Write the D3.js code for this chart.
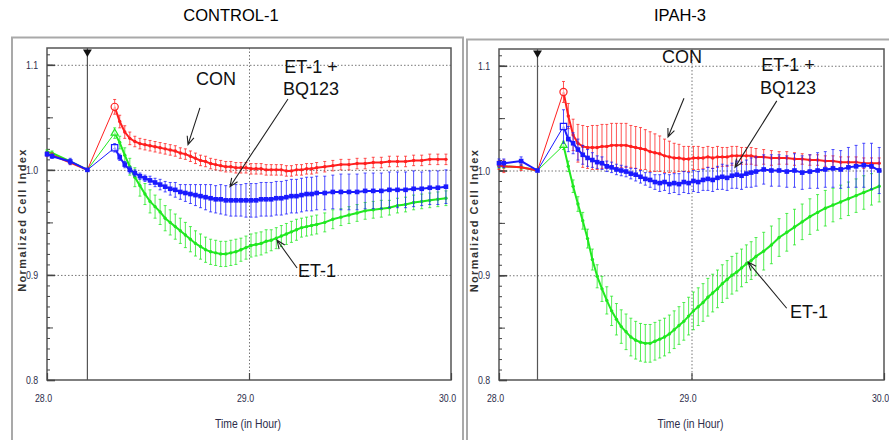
<!DOCTYPE html>
<html>
<head>
<meta charset="utf-8">
<script src="https://cdn.jsdelivr.net/npm/d3@7"></script>
<style>
  body { margin: 0; background: #fff; }
  svg { display: block; font-family: "Liberation Sans", Arial, sans-serif; }
</style>
</head>
<body>
<svg id="chart" width="889" height="440"></svg>
<script>
// time points (hours), shared by both panels
const TIME = [28.0, 28.025, 28.115, 28.2,
  28.335, 28.36, 28.385, 28.41, 28.435, 28.46, 28.485, 28.51, 28.535, 28.56,
  28.585, 28.61, 28.635, 28.66, 28.685, 28.71, 28.735, 28.76, 28.785, 28.81,
  28.835, 28.86, 28.885, 28.91, 28.935, 28.96, 28.985, 29.01, 29.035, 29.06,
  29.085, 29.11, 29.135, 29.16, 29.185, 29.21, 29.235, 29.26, 29.285, 29.31, 29.335,
  29.375, 29.415, 29.455, 29.495, 29.535, 29.575, 29.615, 29.655, 29.695, 29.735,
  29.775, 29.815, 29.855, 29.895, 29.935, 29.975];

const PEAK = 4;        // first point after treatment
const EVENT_T = 28.2;  // treatment marker

// CONTROL-1
const CONTROL_CON = [1.015, 1.014, 1.007, 1.000,
  1.060, 1.046, 1.036, 1.030, 1.027, 1.025, 1.024, 1.023, 1.022, 1.021,
  1.020, 1.019, 1.018, 1.016, 1.015, 1.013, 1.011, 1.009, 1.008, 1.006,
  1.005, 1.004, 1.003, 1.003, 1.002, 1.002, 1.002, 1.001, 1.001, 1.001,
  1.000, 1.000, 1.000, 1.000, 0.999, 0.999, 1.000, 1.000, 1.001, 1.001, 1.002,
  1.003, 1.004, 1.005, 1.005, 1.006, 1.006, 1.007, 1.007, 1.008, 1.008,
  1.008, 1.009, 1.009, 1.010, 1.010, 1.010];
const CONTROL_CON_ERR = [0.002, 0.002, 0.002, 0.001,
  0.007, 0.006, 0.006, 0.006, 0.005, 0.005, 0.005, 0.005, 0.005, 0.005,
  0.005, 0.005, 0.005, 0.005, 0.005, 0.005, 0.005, 0.005, 0.005, 0.005,
  0.005, 0.005, 0.005, 0.005, 0.005, 0.005, 0.005, 0.005, 0.005, 0.005,
  0.005, 0.005, 0.005, 0.005, 0.005, 0.005, 0.005, 0.005, 0.005, 0.005, 0.005,
  0.005, 0.005, 0.005, 0.005, 0.005, 0.005, 0.005, 0.005, 0.005, 0.005,
  0.005, 0.005, 0.005, 0.005, 0.005, 0.005];

const CONTROL_ET1 = [1.017, 1.016, 1.008, 1.000,
  1.035, 1.026, 1.014, 1.003, 0.993, 0.985, 0.977, 0.970, 0.965, 0.960,
  0.954, 0.950, 0.946, 0.942, 0.938, 0.934, 0.930, 0.927, 0.924, 0.922,
  0.921, 0.920, 0.920, 0.921, 0.922, 0.924, 0.926, 0.928, 0.929, 0.930,
  0.932, 0.933, 0.935, 0.937, 0.939, 0.941, 0.943, 0.945, 0.946, 0.947, 0.948,
  0.950, 0.953, 0.955, 0.957, 0.959, 0.961, 0.962, 0.963, 0.964, 0.966,
  0.967, 0.969, 0.970, 0.971, 0.972, 0.973];
const CONTROL_ET1_ERR = [0.002, 0.002, 0.002, 0.001,
  0.005, 0.006, 0.007, 0.008, 0.009, 0.010, 0.010, 0.011, 0.011, 0.012,
  0.012, 0.012, 0.012, 0.012, 0.012, 0.012, 0.012, 0.012, 0.012, 0.012,
  0.012, 0.012, 0.012, 0.012, 0.012, 0.011, 0.011, 0.011, 0.011, 0.011,
  0.011, 0.010, 0.010, 0.010, 0.010, 0.010, 0.010, 0.009, 0.009, 0.009, 0.009,
  0.009, 0.009, 0.008, 0.008, 0.008, 0.008, 0.008, 0.008, 0.007, 0.007,
  0.007, 0.007, 0.007, 0.007, 0.007, 0.007];

const CONTROL_BQ = [1.015, 1.013, 1.008, 1.000,
  1.021, 1.012, 1.005, 1.000, 0.997, 0.994, 0.992, 0.990, 0.988, 0.986,
  0.984, 0.982, 0.981, 0.979, 0.978, 0.977, 0.976, 0.975, 0.974, 0.973,
  0.972, 0.972, 0.971, 0.971, 0.971, 0.971, 0.971, 0.971, 0.971, 0.972,
  0.972, 0.972, 0.973, 0.973, 0.974, 0.975, 0.975, 0.976, 0.977, 0.977, 0.978,
  0.978, 0.979, 0.979, 0.979, 0.979, 0.980, 0.980, 0.980, 0.981, 0.981,
  0.981, 0.982, 0.982, 0.983, 0.983, 0.984];
const CONTROL_BQ_ERR = [0.002, 0.002, 0.003, 0.001,
  0.004, 0.003, 0.003, 0.003, 0.003, 0.003, 0.003, 0.004, 0.004, 0.005,
  0.005, 0.006, 0.007, 0.007, 0.008, 0.009, 0.010, 0.011, 0.012, 0.013,
  0.013, 0.014, 0.014, 0.015, 0.015, 0.015, 0.016, 0.016, 0.016, 0.016,
  0.016, 0.016, 0.016, 0.016, 0.016, 0.016, 0.016, 0.016, 0.016, 0.016, 0.016,
  0.016, 0.016, 0.017, 0.017, 0.017, 0.017, 0.017, 0.017, 0.017, 0.017,
  0.017, 0.017, 0.016, 0.016, 0.016, 0.016];

// IPAH-3
const IPAH_CON = [1.005, 1.004, 1.003, 1.000,
  1.075, 1.052, 1.034, 1.026, 1.023, 1.022, 1.022, 1.022, 1.023, 1.023,
  1.024, 1.024, 1.024, 1.024, 1.023, 1.022, 1.021, 1.020, 1.018, 1.017,
  1.016, 1.014, 1.013, 1.012, 1.012, 1.011, 1.011, 1.012, 1.012, 1.012,
  1.013, 1.012, 1.013, 1.013, 1.013, 1.014, 1.014, 1.014, 1.014, 1.014, 1.013,
  1.013, 1.012, 1.012, 1.012, 1.011, 1.011, 1.010, 1.010, 1.009, 1.009,
  1.008, 1.008, 1.008, 1.007, 1.007, 1.007];
const IPAH_CON_ERR = [0.004, 0.006, 0.003, 0.001,
  0.010, 0.012, 0.015, 0.018, 0.020, 0.020, 0.021, 0.021, 0.021, 0.021,
  0.021, 0.021, 0.021, 0.021, 0.020, 0.020, 0.020, 0.019, 0.019, 0.018,
  0.017, 0.016, 0.015, 0.014, 0.013, 0.012, 0.012, 0.011, 0.011, 0.010,
  0.010, 0.010, 0.010, 0.009, 0.009, 0.009, 0.009, 0.008, 0.008, 0.008, 0.008,
  0.007, 0.007, 0.006, 0.006, 0.006, 0.005, 0.005, 0.005, 0.005, 0.005,
  0.005, 0.005, 0.005, 0.005, 0.005, 0.005];

const IPAH_ET1 = [1.004, 1.004, 1.003, 1.000,
  1.024, 1.004, 0.985, 0.968, 0.952, 0.935, 0.915, 0.899, 0.887, 0.876,
  0.866, 0.858, 0.851, 0.846, 0.841, 0.838, 0.836, 0.835, 0.835, 0.837,
  0.839, 0.841, 0.844, 0.848, 0.852, 0.856, 0.861, 0.866, 0.870, 0.874,
  0.879, 0.883, 0.887, 0.892, 0.896, 0.900, 0.903, 0.907, 0.911, 0.914, 0.918,
  0.923, 0.929, 0.936, 0.941, 0.946, 0.951, 0.956, 0.960, 0.964, 0.967,
  0.970, 0.973, 0.976, 0.979, 0.982, 0.985];
const IPAH_ET1_ERR = [0.002, 0.002, 0.002, 0.001,
  0.004, 0.005, 0.006, 0.007, 0.008, 0.009, 0.010, 0.011, 0.012, 0.013,
  0.014, 0.015, 0.016, 0.017, 0.018, 0.018, 0.018, 0.018, 0.018, 0.018,
  0.018, 0.018, 0.018, 0.018, 0.018, 0.018, 0.018, 0.018, 0.018, 0.018,
  0.018, 0.018, 0.018, 0.018, 0.018, 0.018, 0.018, 0.018, 0.018, 0.018, 0.018,
  0.018, 0.018, 0.018, 0.018, 0.017, 0.017, 0.017, 0.017, 0.017, 0.016,
  0.016, 0.016, 0.016, 0.016, 0.015, 0.015];

const IPAH_BQ = [1.007, 1.007, 1.009, 1.000,
  1.042, 1.030, 1.026, 1.020, 1.015, 1.012, 1.010, 1.008, 1.007, 1.004,
  1.003, 1.001, 1.000, 0.999, 0.997, 0.996, 0.994, 0.992, 0.991, 0.989,
  0.988, 0.989, 0.987, 0.988, 0.987, 0.989, 0.988, 0.990, 0.989, 0.991,
  0.992, 0.991, 0.993, 0.994, 0.993, 0.995, 0.996, 0.995, 0.997, 0.998, 0.999,
  1.001, 1.000, 1.000, 0.999, 1.000, 0.998, 0.999, 1.000, 1.001, 1.002,
  1.001, 1.003, 1.004, 1.005, 1.004, 1.000];
const IPAH_BQ_ERR = [0.004, 0.004, 0.004, 0.001,
  0.016, 0.012, 0.010, 0.010, 0.009, 0.008, 0.007, 0.006, 0.006, 0.005,
  0.005, 0.005, 0.005, 0.005, 0.005, 0.006, 0.006, 0.006, 0.007, 0.007,
  0.008, 0.008, 0.009, 0.009, 0.010, 0.010, 0.010, 0.010, 0.010, 0.010,
  0.011, 0.011, 0.011, 0.012, 0.012, 0.012, 0.013, 0.013, 0.013, 0.014, 0.014,
  0.014, 0.015, 0.015, 0.015, 0.016, 0.016, 0.016, 0.017, 0.017, 0.018,
  0.018, 0.019, 0.020, 0.021, 0.022, 0.022];

// axes
const X_DOMAIN = [28, 30];
const Y_DOMAIN = [0.8, 1.116];
const X_TICKS = [28, 29, 30];
const Y_TICKS = [0.8, 0.9, 1.0, 1.1];
const X_GRID = [29];
const Y_GRID = [0.9, 1.0, 1.1];

// annotations, in data units
const CONTROL_LABELS = [
  { text: "CON", t: 28.837, v: 1.081, anchor: "middle" },
  { text: "ET-1 +", t: 29.307, v: 1.092, anchor: "middle" },
  { text: "BQ123", t: 29.307, v: 1.071, anchor: "middle" },
  { text: "ET-1", t: 29.243, v: 0.898, anchor: "start" }
];
const CONTROL_ARROWS = [
  { t0: 28.757, v0: 1.059, t1: 28.698, v1: 1.024 },
  { t0: 29.193, v0: 1.0675, t1: 28.906, v1: 0.984 },
  { t0: 29.238, v0: 0.9066, t1: 29.139, v1: 0.933 }
];
const IPAH_LABELS = [
  { text: "CON", t: 28.951, v: 1.103, anchor: "middle" },
  { text: "ET-1 +", t: 29.501, v: 1.095, anchor: "middle" },
  { text: "BQ123", t: 29.501, v: 1.073, anchor: "middle" },
  { text: "ET-1", t: 29.512, v: 0.859, anchor: "start" }
];
const IPAH_ARROWS = [
  { t0: 28.961, v0: 1.069, t1: 28.878, v1: 1.032 },
  { t0: 29.443, v0: 1.0665, t1: 29.226, v1: 1.003 },
  { t0: 29.4945, v0: 0.8685, t1: 29.294, v1: 0.9126 }
];

const RED = "#ff1f1f", GREEN = "#20e820", BLUE = "#1a1aff";
const NARROW = "scale(0.8,1)";  // imitates the condensed axis font

const PANELS = [
  {
    title: "CONTROL-1", titleX: 231,
    frame: { x: 12, y: 37.5, w: 451, h: 420 },
    plot: { left: 47, right: 451, top: 48, bottom: 380 },
    series: [
      { values: CONTROL_ET1, errors: CONTROL_ET1_ERR, color: GREEN, marker: "dot", peak: "triangle" },
      { values: CONTROL_CON, errors: CONTROL_CON_ERR, color: RED, marker: "dot", peak: "circle" },
      { values: CONTROL_BQ, errors: CONTROL_BQ_ERR, color: BLUE, marker: "square", peak: "square" }
    ],
    labels: CONTROL_LABELS, arrows: CONTROL_ARROWS
  },
  {
    title: "IPAH-3", titleX: 680,
    frame: { x: 467, y: 39.5, w: 440, h: 420 },
    plot: { left: 499, right: 884, top: 49, bottom: 380 },
    series: [
      { values: IPAH_ET1, errors: IPAH_ET1_ERR, color: GREEN, marker: "dot", peak: "triangle" },
      { values: IPAH_CON, errors: IPAH_CON_ERR, color: RED, marker: "dot", peak: "circle" },
      { values: IPAH_BQ, errors: IPAH_BQ_ERR, color: BLUE, marker: "square", peak: "square" }
    ],
    labels: IPAH_LABELS, arrows: IPAH_ARROWS
  }
];

const svg = d3.select("#chart");
PANELS.forEach(drawPanel);

function drawPanel(p) {
  const x = d3.scaleLinear().domain(X_DOMAIN).range([p.plot.left, p.plot.right]);
  const y = d3.scaleLinear().domain(Y_DOMAIN).range([p.plot.bottom, p.plot.top]);
  const w = p.plot.right - p.plot.left;
  const h = p.plot.bottom - p.plot.top;
  const g = svg.append("g");

  // outer frame + title
  g.append("rect")
    .attr("x", p.frame.x).attr("y", p.frame.y)
    .attr("width", p.frame.w).attr("height", p.frame.h)
    .attr("fill", "none").attr("stroke", "#a9a9a9").attr("stroke-width", 2);

  g.append("text")
    .attr("x", p.titleX).attr("y", 21)
    .attr("text-anchor", "middle")
    .attr("font-size", 16.5)
    .text(p.title);

  // dotted grid
  g.append("g")
    .attr("transform", `translate(${p.plot.left},0)`)
    .call(d3.axisRight(y).tickValues(Y_GRID).tickSize(w).tickFormat(""))
    .call(a => a.select(".domain").remove())
    .selectAll("line")
    .attr("stroke", "#777").attr("stroke-dasharray", "1.5,2");

  g.append("g")
    .attr("transform", `translate(0,${p.plot.top})`)
    .call(d3.axisBottom(x).tickValues(X_GRID).tickSize(h).tickFormat(""))
    .call(a => a.select(".domain").remove())
    .selectAll("line")
    .attr("stroke", "#777").attr("stroke-dasharray", "1.5,2");

  // plot box
  g.append("rect")
    .attr("x", p.plot.left).attr("y", p.plot.top)
    .attr("width", w).attr("height", h)
    .attr("fill", "none").attr("stroke", "#555").attr("stroke-width", 1.5);

  // inward ticks on y axis: 0.01, 0.05, 0.1
  [[30, 3], [6, 6], [3, 8]].forEach(([count, size]) => {
    g.append("g")
      .attr("transform", `translate(${p.plot.left},0)`)
      .call(d3.axisRight(y).ticks(count).tickSize(size).tickFormat(""))
      .call(a => a.select(".domain").remove())
      .selectAll("line")
      .attr("stroke", "#444").attr("stroke-width", size > 6 ? 1.6 : 1);
  });

  g.append("g")
    .attr("transform", `translate(0,${p.plot.bottom})`)
    .call(d3.axisTop(x).tickValues(X_TICKS).tickSize(7).tickFormat(""))
    .call(a => a.select(".domain").remove())
    .selectAll("line").attr("stroke", "#444").attr("stroke-width", 1.2);

  // tick labels
  g.append("g")
    .attr("transform", `translate(${p.plot.left},0)`)
    .call(d3.axisLeft(y).tickValues(Y_TICKS).tickSize(0).tickPadding(0).tickFormat(d3.format(".1f")))
    .call(a => a.select(".domain").remove())
    .selectAll("text")
    .attr("x", -11)
    .attr("transform", NARROW)
    .attr("font-size", 11).attr("fill", "#2d2d4a");

  g.append("g")
    .attr("transform", `translate(0,${p.plot.bottom})`)
    .call(d3.axisBottom(x).tickValues(X_TICKS).tickSize(0).tickPadding(14).tickFormat(d3.format(".1f")))
    .call(a => a.select(".domain").remove())
    .selectAll("text")
    .attr("x", -5)
    .attr("transform", NARROW)
    .attr("font-size", 11).attr("fill", "#2d2d4a");

  // axis titles
  g.append("text")
    .attr("transform", `translate(${p.plot.left - 21},${(p.plot.top + p.plot.bottom) / 2 + 6}) rotate(-90)`)
    .attr("text-anchor", "middle")
    .attr("font-size", 11).attr("font-weight", "bold")
    .attr("letter-spacing", 1.4)
    .attr("fill", "#333")
    .text("Normalized Cell Index");

  g.append("text")
    .attr("transform", `translate(${x(29) - 1},${p.plot.bottom + 48}) ${NARROW}`)
    .attr("text-anchor", "middle")
    .attr("font-size", 13).attr("fill", "#2d2d4a")
    .text("Time (in Hour)");

  // treatment marker
  g.append("line")
    .attr("x1", x(EVENT_T)).attr("x2", x(EVENT_T))
    .attr("y1", p.plot.top).attr("y2", p.plot.bottom)
    .attr("stroke", "#555").attr("stroke-width", 1.2);
  g.append("path")
    .attr("d", d3.symbol(d3.symbolTriangle, 34)())
    .attr("transform", `translate(${x(EVENT_T)},${p.plot.top + 4}) rotate(180)`)
    .attr("fill", "#111");

  // series
  const line = d3.line().x(d => x(d.t)).y(d => y(d.v));
  p.series.forEach(s => {
    const pts = TIME.map((t, i) => ({ t, v: s.values[i], e: s.errors[i] }));
    const sg = g.append("g");

    sg.append("g").selectAll("path")
      .data(pts)
      .join("path")
      .attr("d", d => {
        const cx = x(d.t), lo = y(d.v - d.e), hi = y(d.v + d.e);
        return `M${cx},${lo}V${hi}M${cx - 1.5},${lo}h3M${cx - 1.5},${hi}h3`;
      })
      .attr("stroke", s.color).attr("stroke-width", 0.9).attr("fill", "none")
      .attr("opacity", 0.85);

    sg.append("path").datum(pts.slice(0, PEAK))
      .attr("d", line).attr("fill", "none")
      .attr("stroke", s.color).attr("stroke-width", 2);
    sg.append("path").datum(pts.slice(PEAK - 1, PEAK + 1))
      .attr("d", line).attr("fill", "none")
      .attr("stroke", s.color).attr("stroke-width", 1);
    sg.append("path").datum(pts.slice(PEAK))
      .attr("d", line).attr("fill", "none")
      .attr("stroke", s.color).attr("stroke-width", 2);

    const rest = pts.filter((d, i) => i !== PEAK);
    if (s.marker === "square") {
      sg.append("g").selectAll("rect")
        .data(rest).join("rect")
        .attr("x", d => x(d.t) - 2.3).attr("y", d => y(d.v) - 2.3)
        .attr("width", 4.6).attr("height", 4.6)
        .attr("fill", s.color);
    } else {
      sg.append("g").selectAll("circle")
        .data(rest).join("circle")
        .attr("cx", d => x(d.t)).attr("cy", d => y(d.v))
        .attr("r", 1.7).attr("fill", s.color);
    }

    const pk = pts[PEAK];
    const symbolType = { circle: d3.symbolCircle, square: d3.symbolSquare, triangle: d3.symbolTriangle }[s.peak];
    sg.append("path")
      .attr("d", d3.symbol(symbolType, s.peak === "triangle" ? 22 : 40)())
      .attr("transform", `translate(${x(pk.t)},${y(pk.v)})`)
      .attr("fill", "#fff").attr("fill-opacity", 0.6)
      .attr("stroke", s.color).attr("stroke-width", 1.2);
  });

  // annotations
  g.append("g").selectAll("text")
    .data(p.labels).join("text")
    .attr("x", d => x(d.t)).attr("y", d => y(d.v))
    .attr("text-anchor", d => d.anchor)
    .attr("font-size", 18).attr("fill", "#111")
    .text(d => d.text);

  g.append("g").selectAll("path")
    .data(p.arrows).join("path")
    .attr("d", d => {
      const x0 = x(d.t0), y0 = y(d.v0), x1 = x(d.t1), y1 = y(d.v1);
      const ang = Math.atan2(y1 - y0, x1 - x0);
      const len = 9, spread = 0.4;
      const ax = x1 - len * Math.cos(ang - spread), ay = y1 - len * Math.sin(ang - spread);
      const bx = x1 - len * Math.cos(ang + spread), by = y1 - len * Math.sin(ang + spread);
      return `M${x0},${y0}L${x1},${y1}M${ax},${ay}L${x1},${y1}L${bx},${by}`;
    })
    .attr("fill", "none").attr("stroke", "#222").attr("stroke-width", 1.1);
}
</script>
</body>
</html>
